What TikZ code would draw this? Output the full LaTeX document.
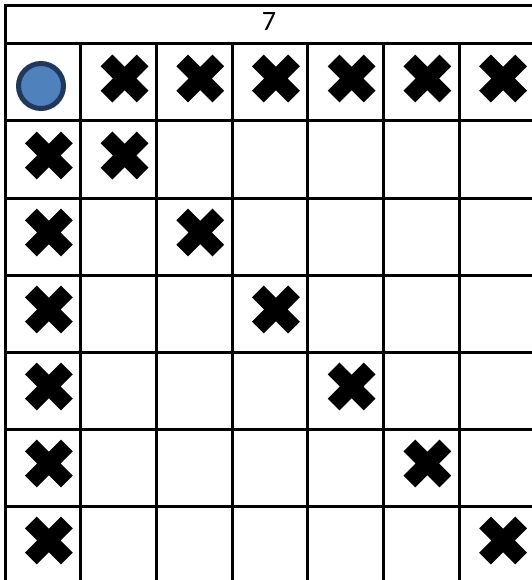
\documentclass[tikz,border=0pt]{standalone}
\usepackage{fontspec}
\setmainfont{Carlito}
\definecolor{tokenblue}{RGB}{79,129,189}
\definecolor{tokenedge}{RGB}{31,56,92}

\begin{document}
\begin{tikzpicture}[x=1pt, y=-1pt,
    gridline/.style={line width=3pt, black},
    token/.style={circle, draw=tokenedge, fill=tokenblue, line width=5pt, minimum size=45pt, inner sep=0pt},
    title/.style={font=\fontsize{28}{30}\selectfont, inner sep=0pt, anchor=base},
    xmark/.pic={\fill[black, rotate=45] (8.3,25.5) -- (-8.3,25.5) -- (-8.3,8.3) -- (-25.5,8.3) -- (-25.5,-8.3) -- (-8.3,-8.3) -- (-8.3,-25.5) -- (8.3,-25.5) -- (8.3,-8.3) -- (25.5,-8.3) -- (25.5,8.3) -- (8.3,8.3) -- cycle;}
]
\useasboundingbox (0,0) rectangle (531,580);
\fill[white] (0,0) rectangle (531,580);

% grid lines
\draw[gridline] (5,6) -- (540,6);
\foreach \r in {0,...,6}
    \draw[gridline] (5,44+77*\r) -- (540,44+77*\r);
\draw[gridline] (5,4.5) -- (5,590);
\foreach \c in {1,...,6}
    \draw[gridline] (5+75.7*\c,44) -- (5+75.7*\c,590);

% header
\node[title] (count) at (269,31) {7};

% start cell
\node[token] (start) at (41,86) {};

% crosses in first row
\foreach \c in {2,...,7}
    \pic at (5+75.7*\c-37.85+6, 82.5-4) {xmark};
% first column and diagonal
\foreach \r in {2,...,7} {
    \pic at (5+37.85+6, 44+77*\r-38.5-4) {xmark};
    \pic at (5+75.7*\r-37.85+6, 44+77*\r-38.5-4) {xmark};
}
\end{tikzpicture}
\end{document}
